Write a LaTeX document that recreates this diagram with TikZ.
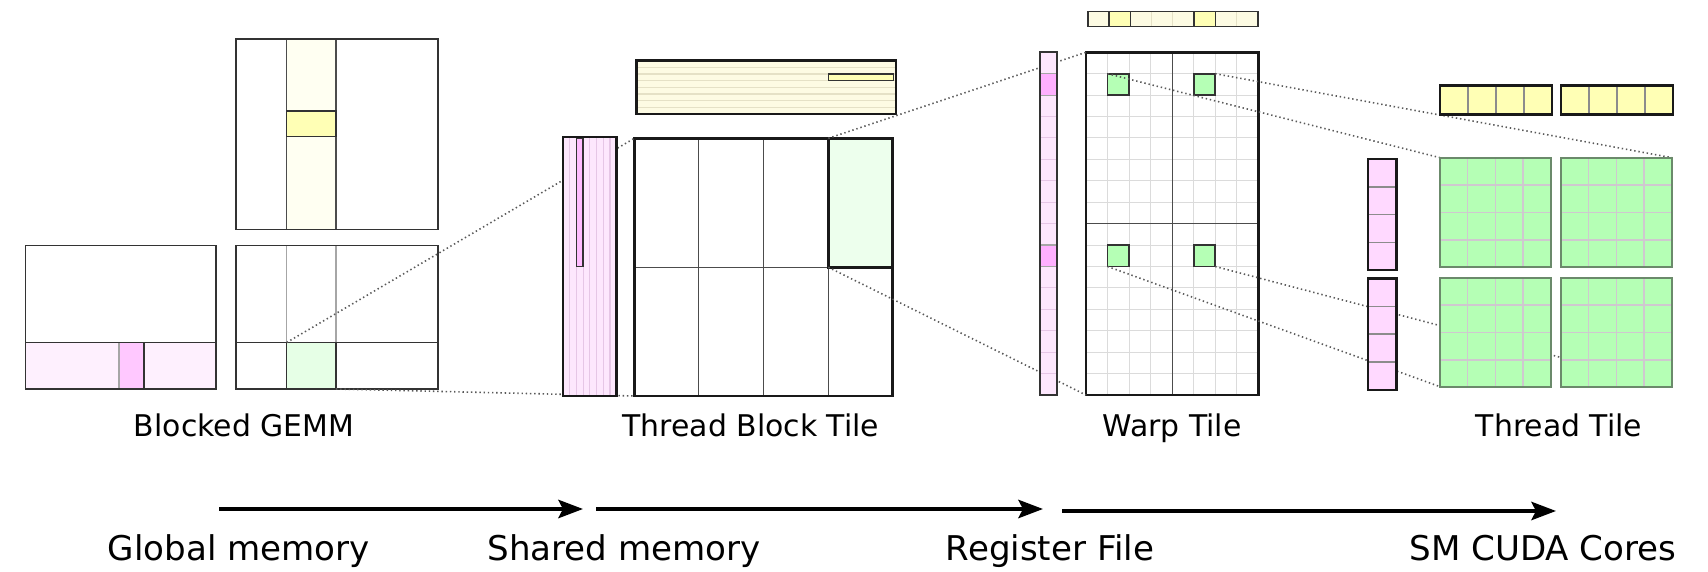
\documentclass[tikz,border=0pt]{standalone}
\usepackage{fontspec}
\setmainfont{DejaVu Sans}
\usetikzlibrary{arrows.meta}

\definecolor{paleyellow}{HTML}{FFFFF2}
\definecolor{panelyellow}{HTML}{FDFBE3}
\definecolor{stripeyellow}{HTML}{E5E1C6}
\definecolor{cellyellow}{HTML}{FFFFB5}
\definecolor{palepink}{HTML}{FEF0FE}
\definecolor{panelpink}{HTML}{FDE7FD}
\definecolor{stripepink}{HTML}{E6C6E6}
\definecolor{cellpink}{HTML}{FFB0FF}
\definecolor{threadpink}{HTML}{FFD9FF}
\definecolor{palegreen}{HTML}{E6FFE6}
\definecolor{cellgreen}{HTML}{B5FFB5}
\definecolor{tilegrid}{HTML}{CFC8CF}
\definecolor{tileedge}{HTML}{6B8A6B}

\begin{document}
\begin{tikzpicture}[x=0.1mm, y=-0.1mm,
  box/.style={draw=black!80, line width=0.45pt},
  heavy/.style={draw=black!90, line width=0.7pt},
  rule/.style={draw=black!70, line width=0.35pt},
  soft/.style={draw=black!35, line width=0.35pt},
  faint/.style={draw=black!14, line width=0.3pt},
  guide/.style={draw=black!65, line width=0.45pt, dash pattern=on 0.4pt off 0.8pt},
  flow/.style={draw=black, line width=1.1pt, -{Stealth[length=7pt, width=5.2pt, inset=1.3pt]}},
  lbl/.style={font=\fontsize{8.5}{10}\selectfont, anchor=base},
  mem/.style={font=\fontsize{9.7}{11}\selectfont, anchor=base}]

\useasboundingbox (0,0) rectangle (1708,572);

% blocked GEMM
\fill[palepink] (25.7,342.5) rectangle (216,389);
\fill[cellpink!70!white] (119,342.5) rectangle (144,389);
\draw[soft] (119,342.5) -- (119,389);
\draw[box] (144,342.5) -- (144,389);
\draw[box] (25.7,245.7) rectangle (216,389);
\draw[box] (25.7,342.5) -- (216,342.5);

\fill[paleyellow] (286.7,39.3) rectangle (336,229.3);
\draw[rule] (286.7,39.3) -- (286.7,229.3) (336,39.3) -- (336,229.3);
\draw[box, fill=cellyellow] (286.7,111) rectangle (336,136.3);
\draw[box] (236,39.3) rectangle (438,229.3);

\draw[soft] (286.7,245.7) -- (286.7,342.5) (336,245.7) -- (336,342.5);
\draw[box, fill=palegreen] (286.7,342.5) rectangle (336,389);
\draw[box] (236,245.7) rectangle (438,389);
\draw[box] (236,342.5) -- (438,342.5);
\coordinate (cg) at (286.7,342.5);
\coordinate (cgse) at (336,389);

% thread block tile
\fill[panelyellow] (636.7,60.7) rectangle (896,114);
\foreach \k in {1,...,7}
  \draw[stripeyellow, line width=0.3pt] (636.7,{60.7+6.66*\k}) -- (896,{60.7+6.66*\k});
\draw[box, fill=cellyellow] (828.3,74) rectangle (893.3,80.3);
\draw[heavy] (636.7,60.7) rectangle (896,114);

\foreach \x in {698.3,763.3,828.3}
  \draw[rule] (\x,138.3) -- (\x,396);
\draw[rule] (634.3,267.3) -- (892.7,267.3);
\draw[heavy, fill=palegreen!70!white] (828.3,138.3) rectangle (892.7,267.3);
\draw[heavy] (634.3,138.3) rectangle (892.7,396);
\coordinate (tnw) at (634.3,138.3);
\coordinate (tsw) at (634.3,396);
\coordinate (tg) at (828.3,138.3);
\coordinate (tgsw) at (828.3,267.3);

% warp tile
\begin{scope}[shift={(1087.7,11.7)}, x=2.129mm, y=-1.5mm]
  \fill[panelyellow] (0,0) rectangle (8,1);
  \foreach \i in {1,...,7} \draw[stripeyellow, line width=0.3pt] (\i,0) -- (\i,1);
  \foreach \i in {1,5} \draw[box, fill=cellyellow] (\i,0) rectangle +(1,1);
  \draw[box] (0,0) rectangle (8,1);
\end{scope}

\begin{scope}[shift={(1086,52.3)}, x=2.154mm, y=-2.142mm]
  \foreach \i in {1,...,7} \draw[faint] (\i,0) -- (\i,16);
  \foreach \j in {1,...,15} \draw[faint] (0,\j) -- (8,\j);
  \draw[rule] (4,0) -- (4,16) (0,8) -- (8,8);
  \foreach \i/\j in {1/1,5/1,1/9,5/9}
    \draw[box, fill=cellgreen] (\i,\j) rectangle +(1,1);
  \draw[heavy] (0,0) rectangle (8,16);
  \coordinate (wnw) at (0,0);
  \coordinate (wsw) at (0,16);
  \coordinate (g11) at (1,1);
  \coordinate (g52) at (6,1);
  \coordinate (g19) at (1,10);
  \coordinate (g59) at (6,10);
\end{scope}

% thread tile corners
\coordinate (t1nw) at (1440,157.7);
\coordinate (t2ne) at (1672,157.7);
\coordinate (t3sw) at (1440,386.7);
\coordinate (t4se) at (1672,386.7);

\draw[guide] (cg) -- (tnw);
\draw[guide] (cgse) -- (tsw);
\draw[guide] (tg) -- (wnw);
\draw[guide] (tgsw) -- (wsw);
\draw[guide] (g11) -- (t1nw);
\draw[guide] (g52) -- (t2ne);
\draw[guide] (g19) -- (t3sw);
\draw[guide] (g59) -- (t4se);

% A panels
\fill[panelpink] (563,137) rectangle (616.7,396);
\foreach \k in {1,...,7}
  \draw[stripepink, line width=0.3pt] ({563+6.71*\k},137) -- ({563+6.71*\k},396);
\draw[box, fill=cellpink!85!white] (576.3,138.3) rectangle (583,266.7);
\draw[heavy] (563,137) rectangle (616.7,396);

\begin{scope}[shift={(1040,52.3)}, x=1.67mm, y=-2.142mm]
  \fill[panelpink] (0,0) rectangle (1,16);
  \foreach \j in {1,...,15} \draw[stripepink, line width=0.3pt] (0,\j) -- (1,\j);
  \foreach \j in {1,9} \draw[soft, fill=cellpink] (0,\j) rectangle +(1,1);
  \draw[box] (0,0) rectangle (1,16);
\end{scope}

% thread tile
\foreach \px/\py in {1368/159, 1368/278.7}{
  \begin{scope}[shift={(\px,\py)}, x=2.85mm, y=-2.78mm]
    \fill[threadpink] (0,0) rectangle (1,4);
    \foreach \j in {1,2,3} \draw[black!45, line width=0.5pt] (0,\j) -- (1,\j);
    \draw[heavy] (0,0) rectangle (1,4);
  \end{scope}
}

\foreach \bx in {1440, 1561}{
  \begin{scope}[shift={(\bx,85.7)}, x=2.8mm, y=-2.86mm]
    \fill[cellyellow] (0,0) rectangle (4,1);
    \foreach \i in {1,2,3} \draw[black!45, line width=0.5pt] (\i,0) -- (\i,1);
    \draw[heavy] (0,0) rectangle (4,1);
  \end{scope}
}

\foreach \gx/\gy in {1440/157.7, 1561/157.7, 1440/277.7, 1561/277.7}{
  \begin{scope}[shift={(\gx,\gy)}, x=2.77mm, y=-2.74mm]
    \fill[cellgreen] (0,0) rectangle (4,4);
    \foreach \i in {1,2,3} \draw[tilegrid, line width=0.4pt] (\i,0) -- (\i,4) (0,\i) -- (4,\i);
    \draw[tileedge, line width=0.5pt] (0,0) rectangle (4,4);
  \end{scope}
}

% labels
\node[lbl] (gemm) at (244,437) {Blocked GEMM};
\node[lbl] (tbt) at (751,437) {Thread Block Tile};
\node[lbl] (wt) at (1172,437) {Warp Tile};
\node[lbl] (tt) at (1559,437) {Thread Tile};

\coordinate (m0) at (219,509);
\coordinate (m1) at (583,509);
\coordinate (m2) at (596,509);
\coordinate (m3) at (1043,509);
\coordinate (m4) at (1062,511);
\coordinate (m5) at (1556,511);
\draw[flow] (m0) -- (m1);
\draw[flow] (m2) -- (m3);
\draw[flow] (m4) -- (m5);

\node[mem] (glob) at (239,561) {Global memory};
\node[mem] (shm) at (624,561) {Shared memory};
\node[mem] (reg) at (1050,561) {Register File};
\node[mem] (sm) at (1543,561) {SM CUDA Cores};
\end{tikzpicture}
\end{document}
